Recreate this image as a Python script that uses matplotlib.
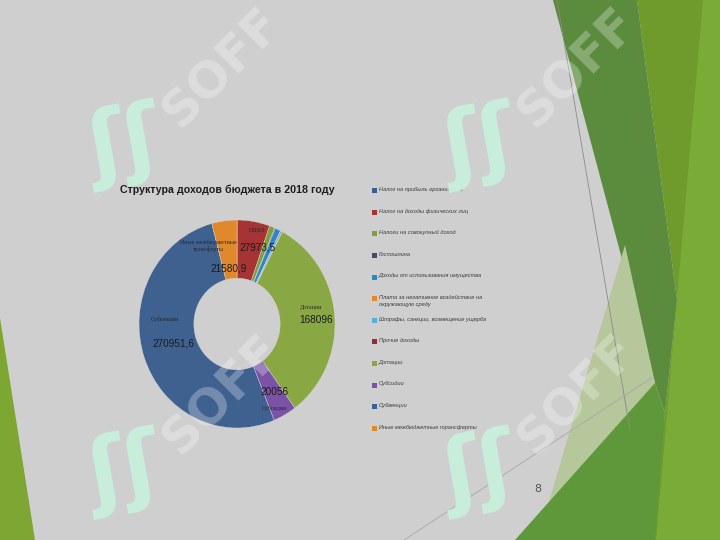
import numpy as np
import matplotlib
matplotlib.use("Agg")
import matplotlib.pyplot as plt
from matplotlib.patches import Polygon, Rectangle

# data
categories = [
    "Налог на прибыль организаций",
    "Налог на доходы физических лиц",
    "Налоги на совокупный доход",
    "Госпошлина",
    "Доходы от использования имущества",
    "Плата за негативное воздействие на\nокружающую среду",
    "Штрафы, санкции, возмещение ущерба",
    "Прочие доходы",
    "Дотации",
    "Субсидии",
    "Субвенции",
    "Иные межбюджетные трансферты",
]
values = [150, 27973.5, 4500, 700, 4800, 150, 1300, 400, 168096, 20056, 270951.6, 21580.9]
colors = ['#3b5d8f', '#a63434', '#7f9f3c', '#4b4a66', '#2e86c6', '#e3892e',
          '#56b0de', '#8c2e3c', '#89a844', '#7a52a6', '#3f6190', '#e0892c']
# short names drawn on the ring
slice_names = {1: "НДФЛ", 8: "Дотации", 9: "Субсидии", 10: "Субвенции",
               11: "Иные межбюджетные\nтрансферты"}

BG = '#cfcfcf'

def fmt(v):
    s = ('%.1f' % v).rstrip('0').rstrip('.')
    return s.replace('.', ',')

fig = plt.figure(figsize=(7.2, 5.4), dpi=100)
fig.patch.set_facecolor(BG)

# slide background, pixel coordinates
bg = fig.add_axes([0, 0, 1, 1])
bg.set_xlim(0, 720)
bg.set_ylim(540, 0)
bg.axis('off')
bg.set_facecolor(BG)

shapes = [
    ([(0, 318), (35, 540), (0, 540)], '#7ea632'),
    ([(637, 0), (720, 0), (720, 540), (650, 540), (665, 413), (677, 300)], '#6f9b2d'),
    ([(703, 0), (720, 0), (720, 540), (656, 540)], '#7aab36'),
    ([(553, 0), (637, 0), (677, 300), (665, 413), (655, 383)], '#5b8b3d'),
    ([(625, 245), (655, 383), (545, 515)], '#b5c79b'),
    ([(515, 540), (655, 383), (665, 413), (655, 540)], '#5f973b'),
]
for pts, c in shapes:
    bg.add_patch(Polygon(pts, closed=True, facecolor=c, edgecolor='none'))
bg.plot([557, 630], [0, 430], color='#8a8a8a', lw=0.6)
bg.plot([404, 653], [540, 377], color='#a8a8a8', lw=0.6)

# title
bg.text(120, 190, "Структура доходов бюджета в 2018 году", fontsize=7.7,
        fontweight='bold', family='Liberation Sans',
        color='#1e1e1e', va='center', ha='left')

# page number
bg.text(538, 489, "8", fontsize=8, color='#555555', ha='center', va='center')

# donut
ax = fig.add_axes([139 / 720, 1 - 428 / 540, 196 / 720, 208 / 540])
wedges, _ = ax.pie(values, colors=colors, startangle=90, counterclock=False,
                   radius=1, wedgeprops=dict(width=0.56, edgecolor='#d8d8d8', linewidth=0.3))
ax.set_aspect('auto')
ax.set_xlim(-1, 1)
ax.set_ylim(-1, 1)
ax.axis('off')

# label offsets in pixels: (value dx, dy), (name dx, dy)
offsets = {1: ((8, 0), (8, 17)), 8: ((6, -2), (1, 11)), 9: ((2, 0), (2, -16)),
           10: ((6, 5), (-2, 30)), 11: ((1, -22), (-19, 1))}
for i, name in slice_names.items():
    w = wedges[i]
    mid = np.deg2rad((w.theta1 + w.theta2) / 2)
    x, y = 0.75 * np.cos(mid), 0.75 * np.sin(mid)
    (vdx, vdy), (ndx, ndy) = offsets[i]
    ax.annotate(fmt(values[i]), (x, y), xytext=(vdx, vdy), textcoords='offset pixels',
                ha='center', va='center', fontsize=7.2, family='Liberation Sans', color='#1a1a1a')
    ax.annotate(name, (x, y), xytext=(ndx, ndy), textcoords='offset pixels',
                ha='center', va='center', fontsize=4.3, family='Liberation Serif',
                color='#2a2a2a', linespacing=1.3)

# legend drawn by hand on the slide
for i, (cat, w) in enumerate(zip(categories, wedges)):
    y = 190.7 + 21.6 * i
    bg.add_patch(Rectangle((372, y - 2.5), 5, 5, facecolor=w.get_facecolor(), edgecolor='none'))
    bg.text(379, y - 3.8, cat, fontsize=4.1, style='italic', family='Liberation Sans',
            color='#3a3a3a', va='top', ha='left', linespacing=1.6)

# watermarks
for lx, ly in [(125, 145), (480, 145), (125, 472), (480, 472)]:
    bg.text(lx, ly, "ʃʃ", fontsize=62, fontweight='bold', color='#c8eedb',
            ha='center', va='center', rotation=10, zorder=5)
    fig.text((lx + 97) / 720, 1 - (ly - 77) / 540, "SOFF", fontsize=36, fontweight='bold',
             color='white', alpha=0.28, ha='center', va='center', rotation=45)

fig.savefig("out.png", dpi=100, facecolor=fig.get_facecolor())
